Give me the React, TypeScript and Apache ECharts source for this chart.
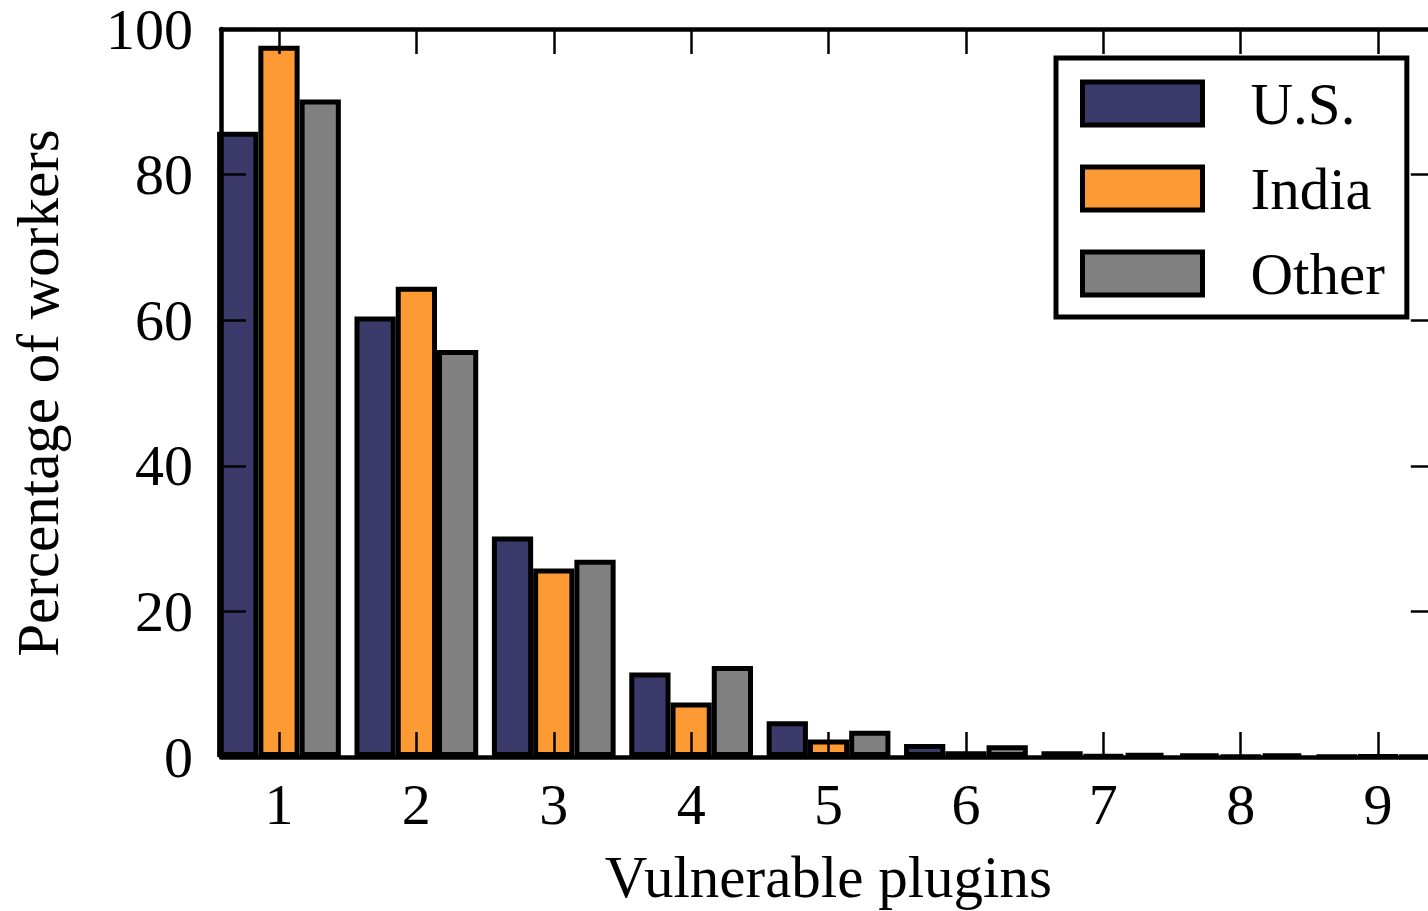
import React, { useEffect, useRef } from "react";
import * as echarts from "echarts";

const categories = [1, 2, 3, 4, 5, 6, 7, 8, 9];
const usValues = [85.9, 60.5, 30.3, 11.6, 4.9, 1.8, 0.8, 0.35, 0.05];
const indiaValues = [97.7, 64.6, 25.9, 7.5, 2.4, 0.8, 0.2, 0.1, 0.15];
const otherValues = [90.3, 55.9, 27.1, 12.5, 3.6, 1.6, 0.45, 0.35, 0.1];
const yTicks = [0, 20, 40, 60, 80, 100];

const FONT = "'Liberation Serif', 'DejaVu Serif', 'Times New Roman', serif";

export default function App() {
  const ref = useRef<HTMLDivElement>(null);

  useEffect(() => {
    document.body.style.margin = "0";
    document.body.style.overflow = "hidden";
    const chart = echarts.init(ref.current!, null, { renderer: "svg" });
    const mk = (name: string, values: number[], color: string) => ({
      name,
      type: "bar",
      data: categories.map((c, i) => [c, values[i]]),
      barWidth: 41.25,
      barGap: "0%",
      itemStyle: { color, borderColor: "#000", borderWidth: 5 },
      clip: true,
    });
    const axisLine = { show: true, onZero: false, lineStyle: { color: "#000", width: 4.5 } };
    const tickStyle = { color: "#000", width: 2.5 };
    chart.setOption({
      animation: false,
      textStyle: { fontFamily: FONT },
      grid: { left: 220, top: 28.5, right: 9.2, bottom: 153, containLabel: false },
      legend: {
        show: true,
        orient: "vertical",
        left: 1056,
        top: 58,
        padding: [16, 22, 14, 24],
        itemWidth: 120,
        itemHeight: 43,
        itemGap: 26,
        icon: "rect",
        borderColor: "#000",
        borderWidth: 5,
        backgroundColor: "#fff",
        itemStyle: { borderColor: "#000", borderWidth: 5 },
        textStyle: {
          fontFamily: FONT,
          fontSize: 59,
          color: "#000",
          padding: [0, 0, 0, 43],
        },
        data: ["U.S.", "India", "Other"],
      },
      xAxis: [
        {
          type: "value",
          position: "bottom",
          min: 0.578,
          max: 9.42,
          z: 5,
          axisLine,
          splitLine: { show: false },
          axisTick: { show: true, inside: true, length: 25, lineStyle: tickStyle, customValues: categories },
          axisLabel: {
            show: true,
            customValues: categories,
            margin: 18,
            fontFamily: FONT,
            fontSize: 58,
            lineHeight: 58,
            color: "#000",
          },
          name: "Vulnerable plugins",
          nameLocation: "middle",
          nameGap: 90,
          nameTextStyle: { fontFamily: FONT, fontSize: 59, lineHeight: 59, color: "#000" },
        },
        {
          type: "value",
          position: "top",
          min: 0.578,
          max: 9.42,
          z: 5,
          axisLine,
          splitLine: { show: false },
          axisTick: { show: true, inside: true, length: 25, lineStyle: tickStyle, customValues: categories },
          axisLabel: { show: false, customValues: categories },
        },
      ],
      yAxis: [
        {
          type: "value",
          position: "left",
          min: 0,
          max: 100,
          interval: 20,
          z: 5,
          axisLine,
          splitLine: { show: false },
          axisTick: { show: true, inside: true, length: 25, lineStyle: tickStyle },
          axisLabel: {
            show: true,
            margin: 28,
            fontFamily: FONT,
            fontSize: 58,
            lineHeight: 48,
            color: "#000",
            customValues: yTicks,
          },
          name: "Percentage of workers",
          nameLocation: "middle",
          nameRotate: 90,
          nameGap: 154,
          nameTextStyle: { fontFamily: FONT, fontSize: 59, lineHeight: 59, color: "#000" },
        },
        {
          type: "value",
          position: "right",
          min: 0,
          max: 100,
          interval: 20,
          z: 5,
          axisLine,
          splitLine: { show: false },
          axisTick: { show: true, inside: true, length: 25, lineStyle: tickStyle },
          axisLabel: { show: false },
        },
      ],
      series: [
        mk("U.S.", usValues, "#3b3a6b"),
        mk("India", indiaValues, "#fd9a33"),
        mk("Other", otherValues, "#808080"),
      ],
    });
    return () => chart.dispose();
  }, []);

  return (
    <div style={{ position: "absolute", left: 0, top: 0, width: 1428, height: 911, overflow: "hidden", background: "#fff" }}>
      <div ref={ref} style={{ width: 1445, height: 911 }} />
    </div>
  );
}
